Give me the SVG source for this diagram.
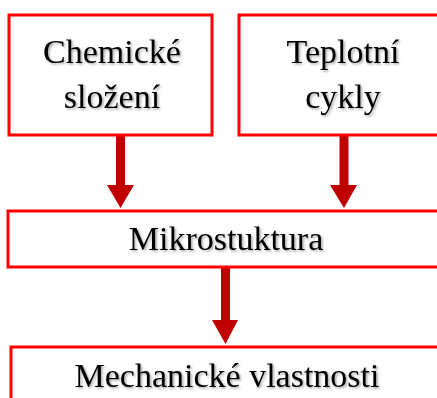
<svg xmlns="http://www.w3.org/2000/svg" width="437" height="398" viewBox="0 0 437 398">
<style>
.box{fill:#fff;stroke:#ff0000;stroke-width:3}
.lbl{font-family:"Liberation Serif","Times New Roman",serif;font-size:34px;fill:#000;text-anchor:middle;filter:url(#sh)}
.arr{fill:#c00000}
</style>
<defs>
<filter id="sh" x="-10%" y="-30%" width="120%" height="160%">
<feDropShadow dx="1.5" dy="1.5" stdDeviation="1" flood-color="#000" flood-opacity="0.35"/>
</filter>
</defs>
<rect width="437" height="398" fill="#fff"/>
<g id="connectors">
<polygon class="arr" points="116,135 125,135 125,185 134,185 120.5,208 107,185 116,185"/>
<polygon class="arr" points="339.5,135 348.5,135 348.5,185 357,185 344,208 330,185 339.5,185"/>
<polygon class="arr" points="221,267 230,267 230,320 238,320 225.5,344 212,320 221,320"/>
</g>
<g id="chem">
<rect class="box" x="9" y="15" width="203" height="120"/>
<text class="lbl" x="112" y="63">Chemické</text>
<text class="lbl" x="112" y="108">složení</text>
</g>
<g id="tepl">
<rect class="box" x="239" y="15" width="210" height="120"/>
<text class="lbl" x="343" y="63">Teplotní</text>
<text class="lbl" x="343" y="108">cykly</text>
</g>
<g id="mikro">
<rect class="box" x="8" y="211" width="440" height="56"/>
<text class="lbl" x="226" y="250">Mikrostuktura</text>
</g>
<g id="mech">
<rect class="box" x="11" y="347" width="440" height="60"/>
<text class="lbl" x="227" y="387">Mechanické vlastnosti</text>
</g>
</svg>
